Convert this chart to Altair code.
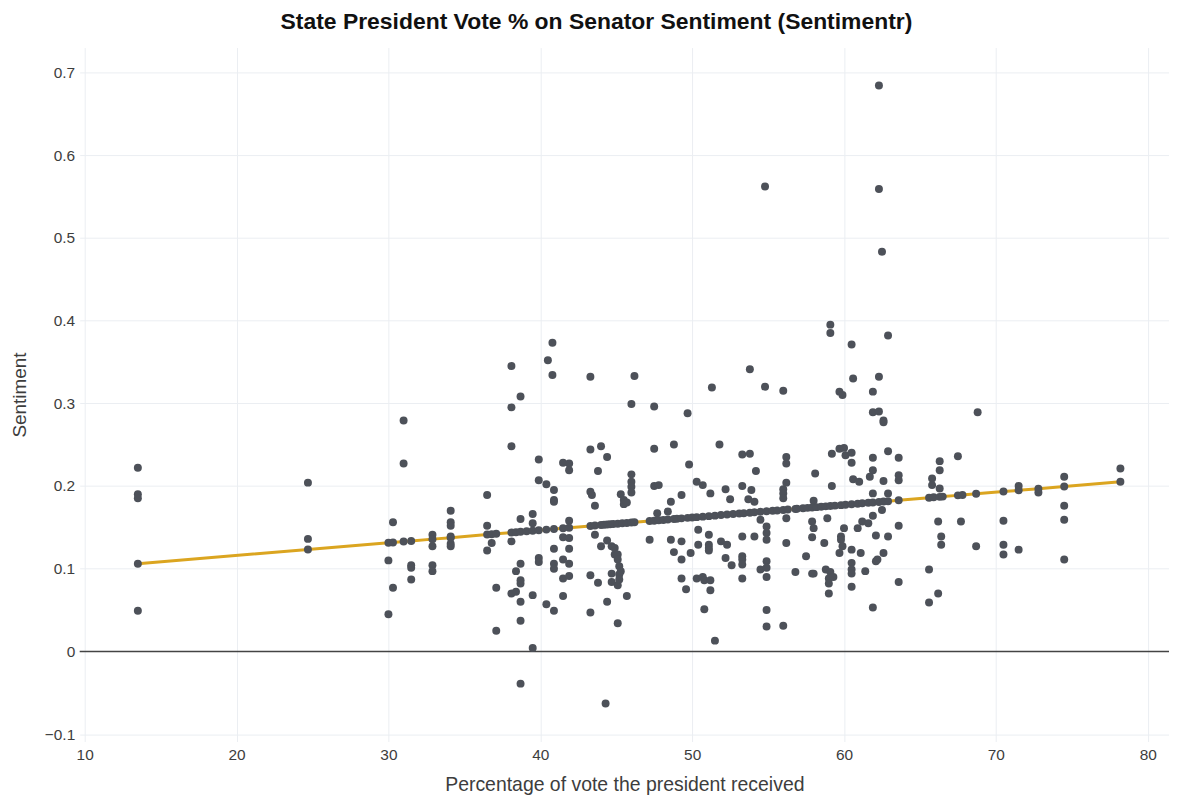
import altair as alt
import pandas as pd

# Observed values, grouped by the state's presidential vote share (x)
col_x = [13.5, 24.7, 30.0, 30.3, 31.0, 31.5, 32.9, 34.1, 36.5, 36.8, 37.1, 38.1, 38.4, 38.7,
         39.5, 39.9, 40.4, 40.5, 40.8, 40.9, 41.5, 41.9, 43.3, 43.4, 43.6, 43.8, 44.0, 44.3,
         44.4, 44.7, 44.9, 45.1, 45.2, 45.3, 45.5, 45.7, 46.0, 46.2, 47.2, 47.5, 47.7, 47.8,
         48.4, 48.6, 48.8, 49.3, 49.6, 49.7, 49.8, 49.9, 50.3, 50.4, 50.7, 50.8, 51.1, 51.2,
         51.3, 51.5, 51.8, 51.9, 52.2, 52.3, 52.5, 52.6, 53.3, 53.7, 53.8, 53.9, 54.1, 54.2,
         54.5, 54.8, 54.9, 56.0, 56.2, 56.8, 57.5, 57.9, 58.0, 58.1, 58.7, 58.8, 58.9, 59.0,
         59.1, 59.2, 59.3, 59.7, 59.8, 59.9, 60.0, 60.1, 60.5, 60.6, 60.9, 61.0, 61.1, 61.2,
         61.4, 61.6, 61.7, 61.9, 62.1, 62.2, 62.3, 62.5, 62.6, 62.9, 63.6, 65.6, 65.8, 66.2,
         66.3, 66.4, 67.5, 67.7, 68.7, 68.8, 70.5, 71.5, 72.8, 74.5, 78.2]
col_y = [
    [0.222, 0.190, 0.185, 0.049], [0.204, 0.136], [0.110, 0.045], [0.156, 0.077],
    [0.279, 0.227], [0.104, 0.101, 0.087], [0.141, 0.127, 0.104, 0.097],
    [0.170, 0.156, 0.152, 0.139, 0.130, 0.127], [0.189, 0.152, 0.122], [0.131],
    [0.077, 0.025], [0.345, 0.295, 0.248, 0.133, 0.070], [0.097, 0.072],
    [0.308, 0.160, 0.106, 0.086, 0.082, 0.060, 0.037, -0.039],
    [0.166, 0.155, 0.068, 0.004], [0.232, 0.207, 0.113, 0.108], [0.202, 0.057], [0.352],
    [0.373, 0.334], [0.195, 0.183, 0.181, 0.124, 0.106, 0.100, 0.049],
    [0.228, 0.138, 0.111, 0.088, 0.067], [0.227, 0.219, 0.158, 0.137, 0.124, 0.106, 0.091],
    [0.332, 0.244, 0.193, 0.092, 0.047], [0.189], [0.176, 0.141], [0.218, 0.083],
    [0.248, 0.127], [-0.063], [0.235, 0.134, 0.060], [0.127, 0.094, 0.084], [0.125, 0.117],
    [0.117, 0.111, 0.080, 0.034], [0.103, 0.093, 0.087], [0.190, 0.097], [0.183, 0.178],
    [0.180, 0.067], [0.299, 0.214, 0.205, 0.199, 0.192], [0.333], [0.135],
    [0.296, 0.245, 0.200], [0.167], [0.201], [0.169], [0.181, 0.135], [0.250, 0.120],
    [0.189, 0.133, 0.111, 0.088], [0.075], [0.288], [0.226], [0.119], [0.205, 0.088],
    [0.147, 0.129], [0.201, 0.090], [0.086, 0.051], [0.141, 0.129, 0.125, 0.122],
    [0.191, 0.086, 0.074], [0.319], [0.013], [0.250], [0.133], [0.196, 0.113], [0.129],
    [0.184], [0.104], [0.238, 0.200, 0.139, 0.115, 0.111, 0.105, 0.088], [0.184],
    [0.341, 0.239], [0.195], [0.181, 0.139], [0.218], [0.159, 0.099], [0.562, 0.320],
    [0.151, 0.143, 0.135, 0.109, 0.101, 0.090, 0.050, 0.030],
    [0.315, 0.196, 0.191, 0.185, 0.031], [0.235, 0.227, 0.204, 0.161, 0.131],
    [0.172, 0.096], [0.115], [0.157, 0.138, 0.094], [0.182, 0.149, 0.094], [0.215],
    [0.131], [0.099], [0.161], [0.088, 0.082, 0.070], [0.395, 0.385, 0.096],
    [0.239, 0.200], [0.090], [0.314, 0.245, 0.119], [0.139, 0.135], [0.310, 0.127],
    [0.246, 0.149], [0.237], [0.371, 0.240, 0.228, 0.123, 0.107, 0.099, 0.094, 0.078],
    [0.330, 0.208], [0.149], [0.205], [0.119], [0.157], [0.097], [0.155], [0.211],
    [0.314, 0.289, 0.234, 0.219, 0.191, 0.164, 0.053], [0.140, 0.109], [0.111],
    [0.684, 0.559, 0.332, 0.290], [0.483, 0.171], [0.279, 0.277, 0.206, 0.119],
    [0.382, 0.242, 0.191, 0.139], [0.234, 0.213, 0.207, 0.152, 0.084], [0.099, 0.059],
    [0.209, 0.201], [0.157, 0.070], [0.230, 0.219, 0.197], [0.139, 0.129], [0.236],
    [0.157], [0.127], [0.289], [0.158, 0.129, 0.117], [0.200, 0.123], [0.192],
    [0.211, 0.176, 0.159, 0.111], [0.221],
]

# Fitted (trend) values
fit_x = [13.5, 24.7, 30.0, 30.3, 31.0, 31.5, 32.9, 34.1, 36.5, 36.8, 37.1, 38.1, 38.4, 38.7,
         39.1, 39.5, 39.9, 40.4, 40.9, 41.5, 41.9, 43.3, 43.6, 44.0, 44.2, 44.4, 44.6, 44.8,
         45.1, 45.4, 45.7, 46.0, 46.2, 47.2, 47.5, 47.8, 48.1, 48.4, 48.8, 49.0, 49.3, 49.7,
         50.0, 50.3, 50.7, 51.1, 51.5, 51.9, 52.3, 52.7, 53.1, 53.4, 53.8, 54.1, 54.5, 54.9,
         55.3, 55.6, 56.0, 56.3, 56.9, 57.3, 57.6, 57.9, 58.2, 58.5, 58.8, 59.1, 59.4, 59.8,
         60.1, 60.5, 60.9, 61.2, 61.6, 61.9, 62.3, 62.6, 62.9, 63.6, 65.6, 65.9, 66.3, 66.5,
         67.5, 67.8, 68.7, 70.5, 71.5, 72.8, 74.5, 78.2]
fit_y = [0.1060, 0.1231, 0.1312, 0.1317, 0.1328, 0.1335, 0.1357, 0.1375, 0.1412, 0.1416,
         0.1421, 0.1436, 0.1441, 0.1446, 0.1452, 0.1458, 0.1464, 0.1472, 0.1479, 0.1488,
         0.1495, 0.1516, 0.1521, 0.1527, 0.1530, 0.1533, 0.1536, 0.1539, 0.1543, 0.1548,
         0.1553, 0.1557, 0.1560, 0.1576, 0.1580, 0.1585, 0.1589, 0.1594, 0.1600, 0.1603,
         0.1608, 0.1614, 0.1619, 0.1623, 0.1629, 0.1635, 0.1641, 0.1648, 0.1654, 0.1660,
         0.1666, 0.1670, 0.1677, 0.1681, 0.1687, 0.1693, 0.1700, 0.1704, 0.1710, 0.1715,
         0.1724, 0.1730, 0.1735, 0.1739, 0.1744, 0.1749, 0.1753, 0.1758, 0.1762, 0.1768,
         0.1773, 0.1779, 0.1785, 0.1790, 0.1796, 0.1801, 0.1807, 0.1811, 0.1816, 0.1827,
         0.1857, 0.1862, 0.1868, 0.1871, 0.1886, 0.1891, 0.1905, 0.1932, 0.1947, 0.1967,
         0.1993, 0.2050]

x_ticks = [10, 20, 30, 40, 50, 60, 70, 80]
y_ticks = [-0.1, 0.0, 0.1, 0.2, 0.3, 0.4, 0.5, 0.6, 0.7]

obs = pd.DataFrame([{"pct": x, "sent": y} for x, ys in zip(col_x, col_y) for y in ys])
fit = pd.DataFrame({"pct": fit_x, "sent": fit_y})
points = pd.concat([obs, fit], ignore_index=True)

FONT = "Liberation Sans"
xscale = alt.Scale(domain=[9.67, 81.4], nice=False, zero=False)
yscale = alt.Scale(domain=[-0.109, 0.730], nice=False, zero=False)

xenc = alt.X("pct:Q", scale=xscale, axis=alt.Axis(
    values=x_ticks, title="Percentage of vote the president received", grid=True,
    gridColor="#EBEEF2", domain=False, ticks=False, labelFont=FONT, labelFontSize=15.5,
    labelColor="#3d3d3d", labelPadding=6, titleFont=FONT, titleFontSize=19.5,
    titleFontWeight="normal", titleColor="#3d3d3d", titlePadding=13))
yenc = alt.Y("sent:Q", scale=yscale, axis=alt.Axis(
    values=y_ticks, title="Sentiment", grid=True, gridColor="#EBEEF2", domain=False,
    ticks=False, labelFont=FONT, labelFontSize=15.5, labelColor="#3d3d3d", labelPadding=5,
    labelExpr="datum.value == 0 ? '0' : replace(format(datum.value, '.1f'), '-', '\u2212')",
    titleFont=FONT, titleFontSize=19, titleFontWeight="normal", titleColor="#3d3d3d",
    titlePadding=15))

zero = alt.Chart(pd.DataFrame({"sent": [0.0]})).mark_rule(
    color="#444444", strokeWidth=1.5).encode(y=alt.Y("sent:Q", scale=yscale))

line = alt.Chart(fit).mark_line(color="#DBA520", strokeWidth=3).encode(
    x=xenc, y=yenc, order="pct:Q")

dots = alt.Chart(points).mark_circle(size=64, color="#4D5159", opacity=1).encode(
    x=alt.X("pct:Q", scale=xscale), y=alt.Y("sent:Q", scale=yscale))

chart = alt.layer(zero, line, dots).properties(
    width=1094, height=697,
    title=alt.TitleParams("State President Vote % on Senator Sentiment (Sentimentr)",
                          font=FONT, fontSize=23, fontWeight="bold", color="#111111",
                          anchor="middle", dx=-28, offset=14),
    autosize=alt.AutoSizeParams(type="none"),
    padding={"left": 72, "top": 38, "right": 0, "bottom": 55},
).configure_view(stroke=None)

chart.save("out.html", embed_options={"renderer": "svg", "actions": False})
